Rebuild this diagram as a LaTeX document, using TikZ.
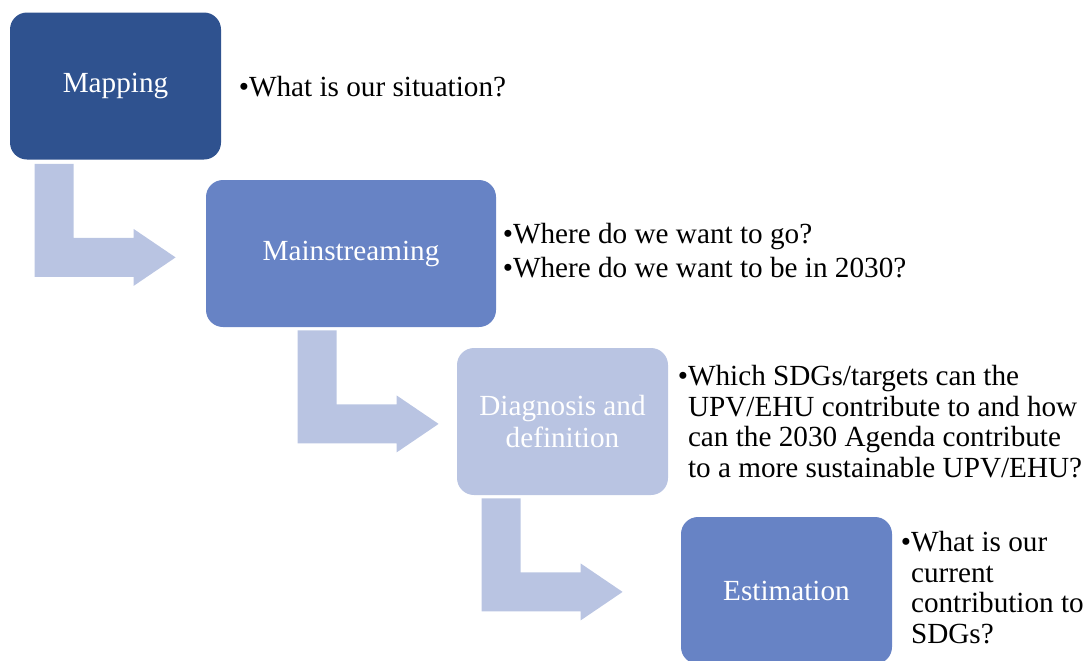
\documentclass[tikz,border=0pt]{standalone}
\usepackage{fontspec}
\setmainfont{Liberation Serif}
\usetikzlibrary{positioning,calc}
\definecolor{mapblue}{HTML}{2F528F}
\definecolor{midblue}{HTML}{6783C5}
\definecolor{paleblue}{HTML}{B9C4E2}
\tikzstyle{stage}=[rectangle,rounded corners=8.5pt,minimum width=105.5pt,
minimum height=73.5pt,text=white,align=center,font=\fontsize{14.6}{16}\selectfont]
\tikzstyle{question}=[align=left,inner sep=0pt,font=\fontsize{14.6}{15.3}\selectfont]
\tikzset{bentarrow/.pic={
  \fill[paleblue] (0,0) -- (39,0) -- (39,74) -- (99,74) -- (99,65) -- (141,93.5)
    -- (99,122) -- (99,113) -- (0,113) -- cycle;
}}
\newcommand{\hang}{\phantom{\textbullet}}

\begin{document}
\begin{tikzpicture}[x=0.5pt,y=-0.5pt]
            \useasboundingbox (0,0) rectangle (1086,660);

            % STAGES

            \node[stage,fill=mapblue]                       (map)  at (115.5,86)  {Mapping};
            \node[stage,fill=midblue,minimum width=145pt]   (main) at (351,253.5) {Mainstreaming};
            \node[stage,fill=paleblue]                      (diag) at (562.5,421.5) {Diagnosis and\\definition};
            \node[stage,fill=midblue]                       (est)  at (786.5,590.5) {Estimation};

            % QUESTIONS

            \node[question,right=8.5pt of map,yshift=-0.5pt] (qmap)  {\textbullet What is our situation?};
            \node[question,right=3pt of main,yshift=1.5pt]   (qmain) {\textbullet Where do we want to go?\\[2pt]
                                                          \textbullet Where do we want to be in 2030?};
            \node[question,right=4.5pt of diag]              (qdiag) {\textbullet Which SDGs/targets can the\\
                                                          \hang UPV/EHU contribute to and how\\
                                                          \hang can the 2030 Agenda contribute\\
                                                          \hang to a more sustainable UPV/EHU?};
            \node[question,right=4pt of est,yshift=1.5pt]    (qest)  {\textbullet What is our\\
                                                          \hang current\\
                                                          \hang contribution to\\
                                                          \hang SDGs?};

            % ARROWS

            \pic at ($(map.south west)+(25,4)$)  {bentarrow};
            \pic at ($(main.south west)+(92,3)$) {bentarrow};
            \pic at ($(diag.south west)+(25,3)$) {bentarrow};

\end{tikzpicture}
\end{document}
